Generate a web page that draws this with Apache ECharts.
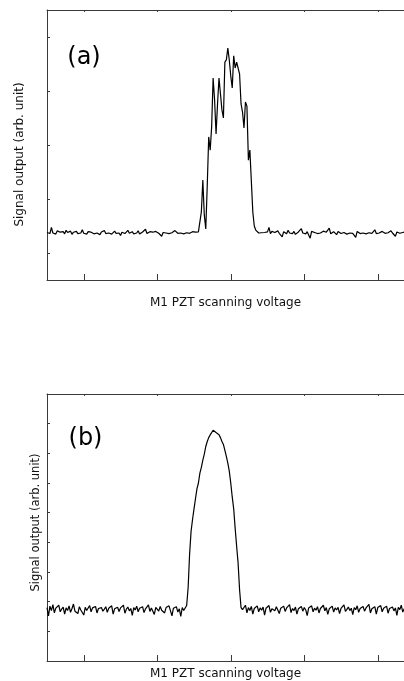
<!DOCTYPE html>
<html>
<head>
<meta charset="utf-8">
<script src="https://cdn.jsdelivr.net/npm/echarts@6/dist/echarts.min.js"></script>
<style>
html,body{margin:0;padding:0;background:#fff;}
#chart{width:404px;height:681px;}
</style>
</head>
<body>
<div id="chart"></div>
<script>
// Sample spacing along the scanning-voltage axis (arb. units)
const SAMPLE_STEP = 0.02;
// visible part of the voltage axis (the frame runs past the right edge of the figure)
const X_MIN = 0, X_MAX = 4.857;

// x tick marks (voltage axis, both panels)
const xTicks = [0.5, 1.5, 2.5, 3.5, 4.5];
// y tick marks
const topYTicks = [1, 3, 5, 7, 9];
const bottomYTicks = [1, 2, 3, 4, 5, 6, 7, 8];

const panelLabels = ['(a)', '(b)'];
const xName = 'M1 PZT scanning voltage';
const yName = 'Signal output (arb. unit)';

// Panel (a): signal output
const topBaseLeft = [
1.76,1.80,1.72,1.95,1.74,1.78,1.70,1.82,1.75,1.77,
1.73,1.79,1.71,1.84,1.76,1.74,1.81,1.69,1.77,1.75,
1.80,1.72,1.78,1.74,1.86,1.73,1.76,1.70,1.79,1.75,
1.77,1.82,1.71,1.76,1.74,1.80,1.68,1.78,1.75,1.83,
1.72,1.77,1.74,1.79,1.70,1.76,1.81,1.73,1.78,1.74,
1.65,1.77,1.80,1.72,1.76,1.84,1.73,1.75,1.79,1.71,
1.77,1.74,1.82,1.70,1.76,1.78,1.73,1.88,1.72,1.75,
1.79,1.74,1.77,1.71,1.80,1.75,1.73,1.78,1.62,1.76,
1.81,1.74,1.77,1.72,1.79,1.75,1.70,1.83,1.76,1.73,
1.78,1.74,1.80,1.71,1.77,1.75,1.82,1.73,1.76,1.79,
1.72,1.77,1.75,1.78
];
const topPeak = [
1.81,2.52,3.70,2.41,1.89,3.48,5.30,4.81,5.67,7.48,
6.67,5.41,6.52,7.48,7.41,6.30,6.00,8.07,8.15,8.59,
8.15,7.56,7.11,8.30,7.85,8.07,8.00,7.63,6.52,6.22,
5.63,6.59,6.44,4.44,4.81,4.81,2.52,2.00,1.85,1.78,
1.74
];
const topBaseRight = [
1.76,1.75,1.77,1.76,1.74,1.78,1.95,1.72,1.80,1.74,
1.76,1.70,1.82,1.73,1.77,1.60,1.79,1.75,1.71,1.84,
1.74,1.77,1.72,1.80,1.69,1.76,1.78,1.73,1.90,1.74,
1.77,1.71,1.79,1.75,1.55,1.80,1.73,1.76,1.82,1.72,
1.78,1.74,1.70,1.81,1.75,1.77,1.73,1.92,1.71,1.76,
1.79,1.74,1.68,1.80,1.75,1.72,1.78,1.76,1.83,1.70,
1.77,1.74,1.79,1.73,1.76,1.58,1.80,1.75,1.72,1.78,
1.74,1.81,1.71,1.77,1.75,1.79,1.73,1.76,1.86,1.72,
1.78,1.74,1.70,1.80,1.76,1.73,1.79,1.75,1.71,1.82,
1.74,1.77,1.62,1.78,1.75,1.73,1.80,1.76,1.72,1.79,
1.74,1.77,1.75,1.85,1.72,1.76
];

// Panel (b): signal output
const bottomBaseLeft = [
1.80,1.52,1.85,1.70,1.90,1.62,1.78,1.74,1.88,1.66,
1.75,1.82,1.58,1.79,1.70,1.86,1.64,1.77,1.92,1.68,
1.74,1.60,1.83,1.72,1.78,1.55,1.81,1.70,1.76,1.87,
1.66,1.79,1.73,1.84,1.62,1.77,1.71,1.80,1.68,1.75,
1.83,1.64,1.78,1.72,1.86,1.58,1.76,1.70,1.81,1.67,
1.79,1.73,1.88,1.61,1.75,1.82,1.69,1.77,1.54,1.80,
1.72,1.85,1.66,1.78,1.74,1.83,1.63,1.76,1.70,1.89,
1.67,1.79,1.73,1.57,1.81,1.75,1.68,1.84,1.71,1.77,
1.62,1.80,1.74,1.86,1.69,1.52,1.78,1.72,1.83,1.65,
1.76,1.50,1.80,1.70,1.74
];
const bottomPeak = [
1.87,2.47,3.60,4.37,4.77,5.13,5.47,5.80,6.00,6.33,
6.53,6.77,6.97,7.23,7.40,7.53,7.62,7.68,7.78,7.82,
7.70,7.74,7.63,7.53,7.40,7.30,7.10,6.90,6.67,6.40,
6.00,5.53,5.13,4.47,3.87,3.30,2.40,1.80,1.73
];
const bottomBaseRight = [
1.76,1.88,1.62,1.80,1.70,1.84,1.58,1.77,1.73,1.86,
1.66,1.79,1.71,1.82,1.55,1.78,1.74,1.87,1.64,1.76,
1.80,1.69,1.83,1.72,1.60,1.78,1.75,1.85,1.67,1.79,
1.73,1.90,1.63,1.77,1.70,1.82,1.58,1.76,1.74,1.84,
1.68,1.80,1.72,1.53,1.79,1.75,1.86,1.66,1.78,1.71,
1.83,1.62,1.77,1.74,1.88,1.69,1.80,1.57,1.76,1.73,
1.85,1.65,1.79,1.72,1.81,1.60,1.77,1.75,1.89,1.67,
1.74,1.82,1.70,1.78,1.56,1.80,1.73,1.86,1.64,1.77,
1.71,1.84,1.68,1.79,1.75,1.91,1.62,1.76,1.73,1.83,
1.58,1.80,1.74,1.87,1.66,1.78,1.72,1.85,1.61,1.77,
1.75,1.82,1.69,1.79,1.54,1.81,1.73,1.88,1.65,1.76,
1.72,1.84,1.60,1.78,1.74,1.86,1.70
];

const topSignal = topBaseLeft.concat(topPeak, topBaseRight);
const bottomSignal = bottomBaseLeft.concat(bottomPeak, bottomBaseRight);
const toPairs = arr => arr.map((v, i) => [+(i * SAMPLE_STEP).toFixed(4), v]);

const FONT = 'DejaVu Sans';
const AX = '#3a3a3a';

function xAxes(gridIndex, gap, fs) {
  return [{
    gridIndex, type: 'value', min: X_MIN, max: X_MAX, position: 'bottom',
    axisLine: {show: true, lineStyle: {color: AX, width: 1}},
    axisTick: {show: true, inside: true, length: 6, customValues: xTicks, lineStyle: {color: AX}},
    axisLabel: {show: false}, splitLine: {show: false},
    name: xName, nameLocation: 'middle', nameGap: gap,
    nameTextStyle: {fontFamily: FONT, fontSize: fs, color: '#111'}
  }, {
    gridIndex, type: 'value', min: X_MIN, max: X_MAX, position: 'top',
    axisLine: {show: true, lineStyle: {color: AX, width: 1}},
    axisTick: {show: true, inside: true, length: 2, customValues: xTicks, lineStyle: {color: AX}},
    axisLabel: {show: false}, splitLine: {show: false}
  }];
}
function yAxis(gridIndex, max, ticks, gap, fs, pad) {
  return {
    gridIndex, type: 'value', min: 0, max: max, position: 'left',
    axisLine: {show: true, lineStyle: {color: AX, width: 1}},
    axisTick: {show: true, inside: true, length: 3, customValues: ticks, lineStyle: {color: AX}},
    axisLabel: {show: false}, splitLine: {show: false},
    name: yName, nameLocation: 'middle', nameGap: gap,
    nameTextStyle: {fontFamily: FONT, fontSize: fs, color: '#111', padding: pad}
  };
}

const chart = echarts.init(document.getElementById('chart'), null, {renderer: 'canvas'});
chart.setOption({
  animation: false,
  backgroundColor: '#fff',
  grid: [
    {left: 47, top: 10, right: 0, height: 270},
    {left: 47, top: 394, right: 0, height: 270}
  ],
  xAxis: xAxes(0, 17, 12).concat(xAxes(1, 7, 12)),
  yAxis: [
    yAxis(0, 10, topYTicks, 21, 12, [0, 19, 0, 0]),
    yAxis(1, 9, bottomYTicks, 5, 11.5, [0, 0, 0, 10])
  ],
  graphic: [
    {type: 'text', x: 84, y: 57.5, style: {text: panelLabels[0], fontFamily: FONT, fontSize: 24, fill: '#000', align: 'center', verticalAlign: 'middle'}},
    {type: 'text', x: 85.5, y: 439, style: {text: panelLabels[1], fontFamily: FONT, fontSize: 24, fill: '#000', align: 'center', verticalAlign: 'middle'}}
  ],
  series: [
    {type: 'line', xAxisIndex: 0, yAxisIndex: 0, data: toPairs(topSignal), showSymbol: false, symbol: 'none',
     lineStyle: {color: '#000', width: 1.2}, sampling: null, clip: true},
    {type: 'line', xAxisIndex: 2, yAxisIndex: 1, data: toPairs(bottomSignal), showSymbol: false, symbol: 'none',
     lineStyle: {color: '#000', width: 1.2}, sampling: null, clip: true}
  ]
});
</script>
</body>
</html>
